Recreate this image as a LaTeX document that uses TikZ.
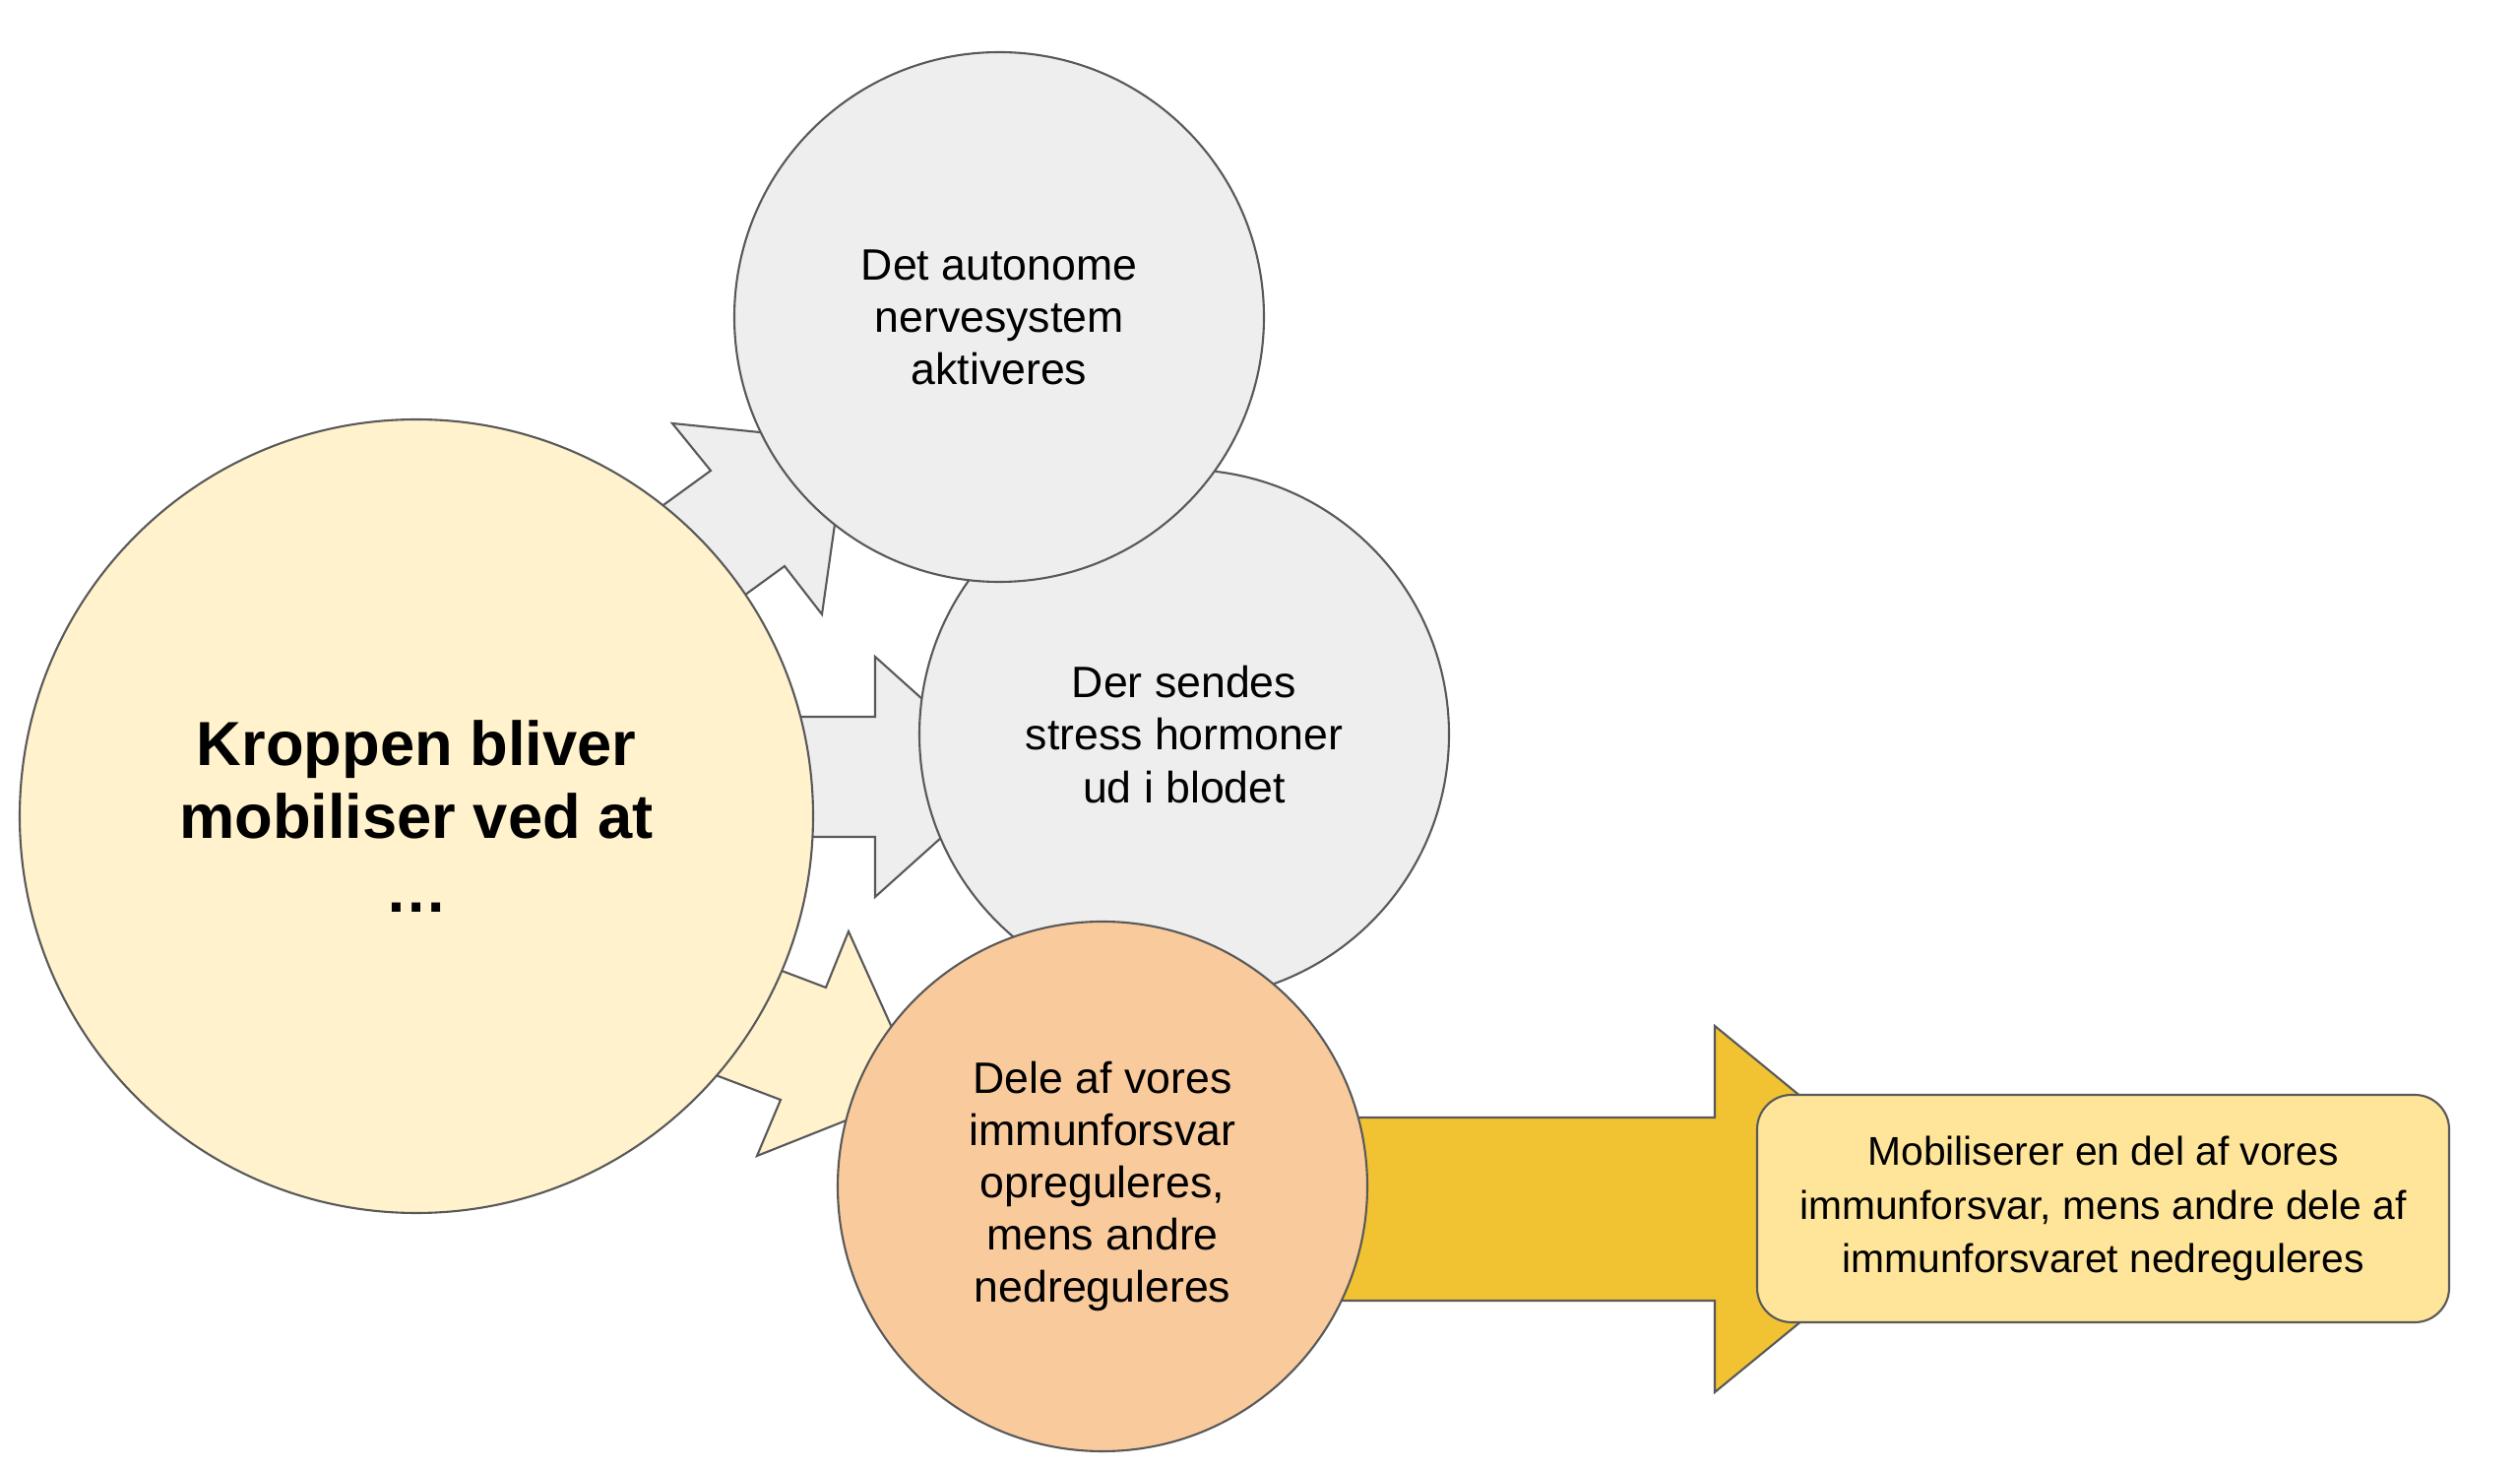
\documentclass[tikz,border=0pt]{standalone}
\usepackage{fontspec}
\setmainfont{Liberation Sans}
\definecolor{edge}{HTML}{595959}
\definecolor{greyfill}{HTML}{EEEEEE}
\definecolor{creamfill}{HTML}{FFF2CC}
\definecolor{orangefill}{HTML}{F9CB9C}
\definecolor{goldfill}{HTML}{F1C232}
\definecolor{boxfill}{HTML}{FFE599}
\begin{document}
\begin{tikzpicture}[x=0.1mm,y=-0.1mm,
  outl/.style={draw=edge, line width=0.6pt, line join=miter},
  bubble/.style={circle, outl, inner sep=0pt, align=center, minimum size=53.8mm,
    font=\fontsize{12.7}{15.1}\selectfont},
  bigbubble/.style={circle, outl, inner sep=0pt, align=center, minimum size=80.6mm,
    font=\fontsize{18}{21.3}\selectfont\bfseries},
  resultbox/.style={rectangle, rounded corners=3.5mm, outl, align=center,
    minimum width=70.3mm, minimum height=23.1mm, inner sep=0pt,
    font=\fontsize{11.6}{15.6}\selectfont},
  blockarrow/.style={outl}
]
\useasboundingbox (0,0) rectangle (2560,1492);
\fill[white] (0,0) rectangle (2560,1492);

% block arrows from the main circle
\draw[blockarrow, fill=greyfill] (601,566) -- (722,478) -- (683,430) -- (860,448) -- (835,624) -- (797,575) -- (676,663) -- cycle;
\draw[blockarrow, fill=greyfill] (700,728) -- (889,728) -- (889,667) -- (1025,789) -- (889,911) -- (889,850) -- (700,850) -- cycle;
\draw[blockarrow, fill=creamfill] (657,934) -- (839,1003) -- (862,946) -- (935,1108) -- (769,1174) -- (793,1117) -- (590,1040) -- cycle;

\node[bigbubble, fill=creamfill] (main) at (423,829) {Kroppen bliver\\mobiliser ved at\\…};
\node[bubble, fill=greyfill] (horm) at (1203,746) {Der sendes\\stress hormoner\\ud i blodet};
\node[bubble, fill=greyfill] (auto) at (1015,322) {Det autonome\\nervesystem\\aktiveres};

% big arrow
\draw[blockarrow, fill=goldfill] (1300,1135) -- (1742,1135) -- (1742,1042) -- (1969,1228) -- (1742,1414) -- (1742,1321) -- (1300,1321) -- cycle;

\node[bubble, fill=orangefill] (immun) at (1120,1205) {Dele af vores\\immunforsvar\\opreguleres,\\mens andre\\nedreguleres};
\node[resultbox, fill=boxfill] (result) at (2136.5,1227.5) {Mobiliserer en del af vores\\immunforsvar, mens andre dele af\\immunforsvaret nedreguleres};
\end{tikzpicture}
\end{document}
